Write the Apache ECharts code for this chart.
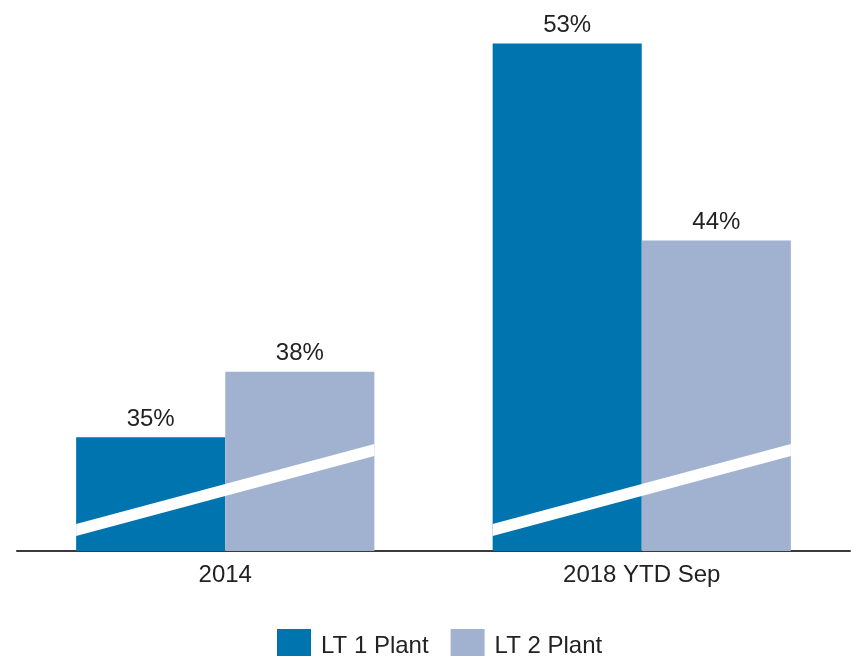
<!DOCTYPE html>
<html>
<head>
<meta charset="utf-8">
<script src="https://cdn.jsdelivr.net/npm/echarts@6/dist/echarts.min.js"></script>
<style>html,body{margin:0;padding:0;background:#fff}#c{width:856px;height:656px}</style>
</head>
<body>
<div id="c"></div>
<script>
const categories = ['2014', '2018 YTD Sep'];
const seriesNames = ['LT 1 Plant', 'LT 2 Plant'];
const lt1Values = [35, 53];
const lt2Values = [38, 44];

const chart = echarts.init(document.getElementById('c'), null, {renderer: 'canvas'});
const FONT = 'Liberation Sans, Arial, sans-serif';
const GROUP_FRAC = 1 - 0.284;
const Y_MIN = 29.8, Y_MAX = 53.3;

const option = {
  animation: false,
  backgroundColor: '#fff',
  grid: {left: 17, right: 6, top: 37, bottom: 105},
  legend: {
    data: seriesNames,
    left: 277, top: 629, padding: 0,
    itemWidth: 34, itemHeight: 34, itemGap: 22,
    icon: 'rect',
    textStyle: {fontFamily: FONT, fontSize: 24, color: '#222', padding: [0, 0, 0, 5]}
  },
  xAxis: {
    type: 'category',
    data: categories,
    axisLine: {lineStyle: {color: '#3a3a3a', width: 2}},
    axisTick: {show: false},
    axisLabel: {fontFamily: FONT, fontSize: 24, color: '#222', margin: 12}
  },
  yAxis: {type: 'value', min: Y_MIN, max: Y_MAX, show: false, splitLine: {show: false}},
  series: [
    {
      name: seriesNames[0], type: 'bar', data: lt1Values,
      barGap: '0%', barCategoryGap: '28.4%',
      itemStyle: {color: '#0074AF'},
      label: {show: true, position: 'top', distance: 6, formatter: '{c}%', fontFamily: FONT, fontSize: 24, color: '#222'}
    },
    {
      name: seriesNames[1], type: 'bar', data: lt2Values,
      barGap: '0%', barCategoryGap: '28.4%',
      itemStyle: {color: '#A0B2CF'},
      label: {show: true, position: 'top', distance: 6, formatter: '{c}%', fontFamily: FONT, fontSize: 24, color: '#222'}
    },
    {
      name: 'break', type: 'custom', z: 10, silent: true,
      data: categories.map((c, i) => [i]),
      renderItem: function (params, api) {
        const base = api.coord([api.value(0), Y_MIN]);
        const band = api.size([1, 0])[0];
        const half = band * GROUP_FRAC / 2;
        const x0 = base[0] - half, x1 = base[0] + half;
        const y0 = base[1] - 21, y1 = base[1] - 101, t = 6;
        return {
          type: 'polygon',
          shape: {points: [[x0, y0 - t], [x1, y1 - t], [x1, y1 + t], [x0, y0 + t]]},
          style: {fill: '#fff'}
        };
      }
    }
  ]
};
chart.setOption(option);
</script>
</body>
</html>
